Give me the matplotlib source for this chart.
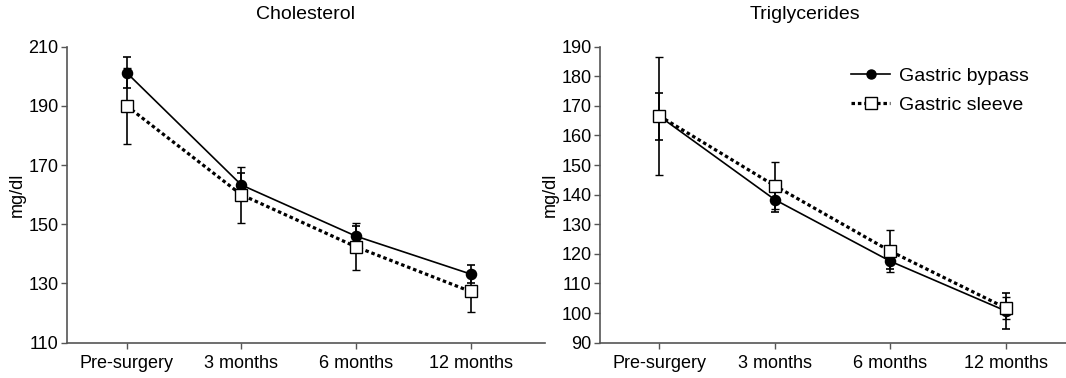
import matplotlib
matplotlib.use("Agg")
import matplotlib.pyplot as plt
from matplotlib.lines import Line2D
import numpy as np

plt.rcParams['font.family'] = ['Liberation Sans', 'DejaVu Sans']
plt.rcParams['font.size'] = 13

timepoints = ['Pre-surgery', '3 months', '6 months', '12 months']

chol_bypass = [201.2, 163.3, 146.0, 133.2]
chol_bypass_err = [5.3, 4.0, 3.4, 3.0]
chol_sleeve = [190.0, 160.0, 142.4, 127.3]
chol_sleeve_err = [12.8, 9.5, 8.0, 7.0]

trig_bypass = [166.5, 138.3, 117.5, 100.7]
trig_bypass_err = [8.0, 4.3, 2.5, 6.1]
trig_sleeve = [166.6, 143.0, 120.9, 101.7]
trig_sleeve_err = [20.0, 8.0, 7.1, 3.7]

spine_col = '#555555'
dot_style = (0, (1.1, 0.9))


def draw(ax, bypass, bypass_err, sleeve, sleeve_err, title, yticks, xlim, title_x):
    x = np.arange(len(timepoints))
    ax.errorbar(x, bypass, yerr=bypass_err, color='black', lw=1.2,
                marker='o', ms=7.3, mfc='black', mec='black',
                ecolor='black', elinewidth=1.2, capsize=2.8, capthick=1.2,
                zorder=2)
    ax.errorbar(x, sleeve, yerr=sleeve_err, color='black', lw=2.3,
                ls=dot_style,
                marker='s', ms=8.3, mfc='white', mec='black', mew=1.0,
                ecolor='black', elinewidth=1.2, capsize=2.8, capthick=1.2,
                zorder=3)
    ax.set_xlim(xlim)
    ax.set_ylim(yticks[0], yticks[-1])
    ax.set_yticks(yticks)
    ax.set_xticks(x)
    ax.set_xticklabels(timepoints)
    ax.set_ylabel('mg/dl', fontsize=13, labelpad=2)
    ax.set_title(title, x=title_x, fontsize=14, pad=20)
    for s in ['top', 'right']:
        ax.spines[s].set_visible(False)
    for s in ['left', 'bottom']:
        ax.spines[s].set_color(spine_col)
        ax.spines[s].set_linewidth(1.2)
    ax.tick_params(direction='out', length=4, width=1.0, color=spine_col,
                   labelsize=13, pad=2)
    ax.tick_params(axis='x', pad=5)


fig = plt.figure(figsize=(10.66, 3.78), dpi=100)
ax1 = fig.add_axes([0.0626, 0.0934, 0.4485, 0.7831])
ax2 = fig.add_axes([0.5629, 0.0934, 0.4371, 0.7831])

draw(ax1, chol_bypass, chol_bypass_err, chol_sleeve, chol_sleeve_err,
     'Cholesterol', [110, 130, 150, 170, 190, 210], (-0.523, 3.648), 0.5)
draw(ax2, trig_bypass, trig_bypass_err, trig_sleeve, trig_sleeve_err,
     'Triglycerides', list(range(90, 191, 10)), (-0.514, 3.52), 0.44)

handles = [
    Line2D([], [], color='black', lw=1.2, marker='o', ms=6.5, mfc='black'),
    Line2D([], [], color='black', lw=2.3, ls=dot_style, marker='s', ms=8,
           mfc='white', mec='black', mew=1.0),
]
ax2.legend(handles, ['Gastric bypass', 'Gastric sleeve'], loc='upper left',
           bbox_to_anchor=(0.51, 0.975), frameon=False, fontsize=14,
           handlelength=2.0, handletextpad=0.45, labelspacing=0.55,
           borderpad=0.2)

fig.savefig('out.png', dpi=100)
